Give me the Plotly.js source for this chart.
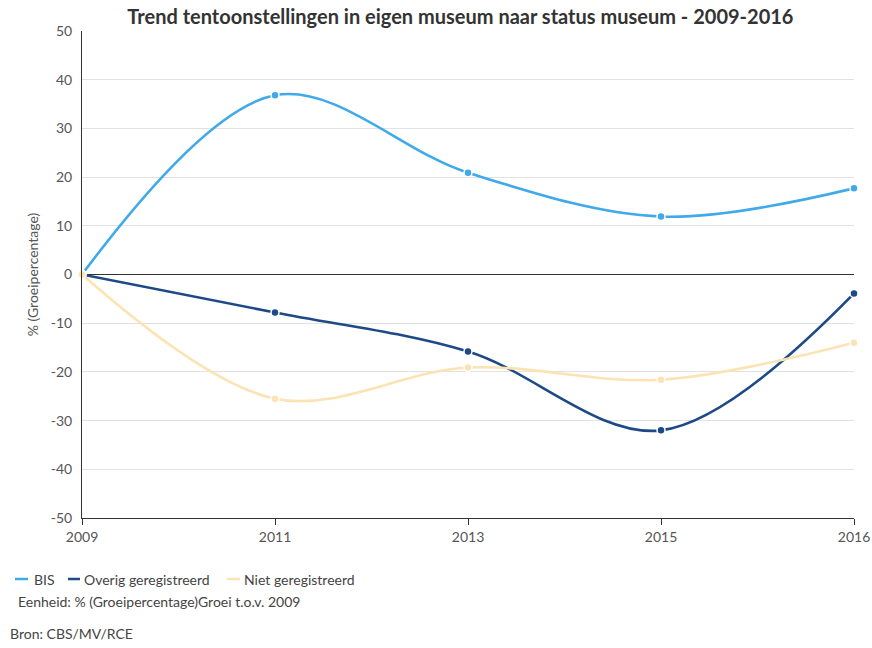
<!DOCTYPE html>
<html>
<head>
<meta charset="utf-8">
<script src="https://cdn.plot.ly/plotly-3.0.1.min.js"></script>
<style>html,body{margin:0;padding:0;background:#fff;}#chart{width:872px;height:648px;}</style>
</head>
<body>
<div id="chart"></div>
<script>
var years = ['2009', '2011', '2013', '2015', '2016'];
var bis = [0, 36.8, 20.9, 11.9, 17.7];
var overig = [0, -7.8, -15.8, -32.0, -3.9];
var niet = [0, -25.5, -19.1, -21.6, -14.0];
var seriesNames = ['BIS', 'Overig geregistreerd', 'Niet geregistreerd'];
var yTicks = [-50, -40, -30, -20, -10, 0, 10, 20, 30, 40, 50];
var yTickText = yTicks.map(function (v) { return String(v); });
var unitNote = 'Eenheid: % (Groeipercentage)Groei t.o.v. 2009';
var sourceNote = 'Bron: CBS/MV/RCE';

var colors = ['#3fa9ea', '#1d4a86', '#fce3b4'];
var data = [bis, overig, niet].map(function (vals, i) {
  return {
    x: years, y: vals, name: seriesNames[i], type: 'scatter', mode: 'lines+markers',
    line: {color: colors[i], width: 2.6, shape: 'spline', smoothing: 1},
    marker: {color: colors[i], size: 8, line: {color: '#ffffff', width: 1.5}},
    cliponaxis: false, showlegend: false
  };
});

// plot area in pixels: left 82, right 854, top 31, bottom 518
var L = 82, R = 854, T = 31, B = 518;
function px(x) { return (x - L) / (R - L); }
function py(y) { return (B - y) / (B - T); }

var font = 'Lato, "Open Sans", sans-serif';
var shapes = [];
var annotations = [];
var legendPos = [[15, 28, 32], [68, 80, 82], [227, 240, 242]];
seriesNames.forEach(function (n, i) {
  var p = legendPos[i];
  shapes.push({type: 'line', xref: 'paper', yref: 'paper', x0: px(p[0]), x1: px(p[1]),
    y0: py(579), y1: py(579), line: {color: colors[i], width: 2.5}});
  annotations.push({text: n, xref: 'paper', yref: 'paper', x: px(p[2]), y: py(579),
    xanchor: 'left', yanchor: 'middle', showarrow: false, font: {size: 14, color: '#444444'}});
});
annotations.push({text: unitNote, xref: 'paper', yref: 'paper', x: px(16), y: py(601),
  xanchor: 'left', yanchor: 'middle', showarrow: false, font: {size: 14, color: '#444444'}});
annotations.push({text: sourceNote, xref: 'paper', yref: 'paper', x: px(8), y: py(633),
  xanchor: 'left', yanchor: 'middle', showarrow: false, font: {size: 14, color: '#444444'}});

var layout = {
  width: 872, height: 648,
  margin: {l: L, r: 872 - R, t: T, b: 648 - B},
  paper_bgcolor: '#ffffff', plot_bgcolor: '#ffffff',
  font: {family: font, size: 14, color: '#555555'},
  title: {text: '<b>Trend tentoonstellingen in eigen museum naar status museum - 2009-2016</b>',
    font: {family: font, size: 20, color: '#333333'}, x: 0.528, xanchor: 'center', y: 0.973, yanchor: 'middle'},
  xaxis: {type: 'category', range: [0, 4], showgrid: false, zeroline: false,
    showline: true, linecolor: '#333333', linewidth: 1,
    ticks: 'outside', ticklen: 6, tickcolor: '#333333', tickvals: years, ticktext: years,
    tickfont: {size: 14, color: '#555555'}},
  yaxis: {range: [-50, 50], tickvals: yTicks, ticktext: yTickText, showgrid: true, gridcolor: '#e2e2e2', gridwidth: 1,
    zeroline: true, zerolinecolor: '#333333', zerolinewidth: 1,
    showline: true, linecolor: '#333333', linewidth: 1, ticks: '', ticklabelstandoff: 6,
    tickfont: {size: 14, color: '#555555'},
    title: {text: '% (Groeipercentage)', font: {size: 14, color: '#555555'}, standoff: 8}},
  showlegend: false,
  shapes: shapes,
  annotations: annotations
};
Plotly.newPlot('chart', data, layout, {displayModeBar: false, responsive: false});
</script>
</body>
</html>
